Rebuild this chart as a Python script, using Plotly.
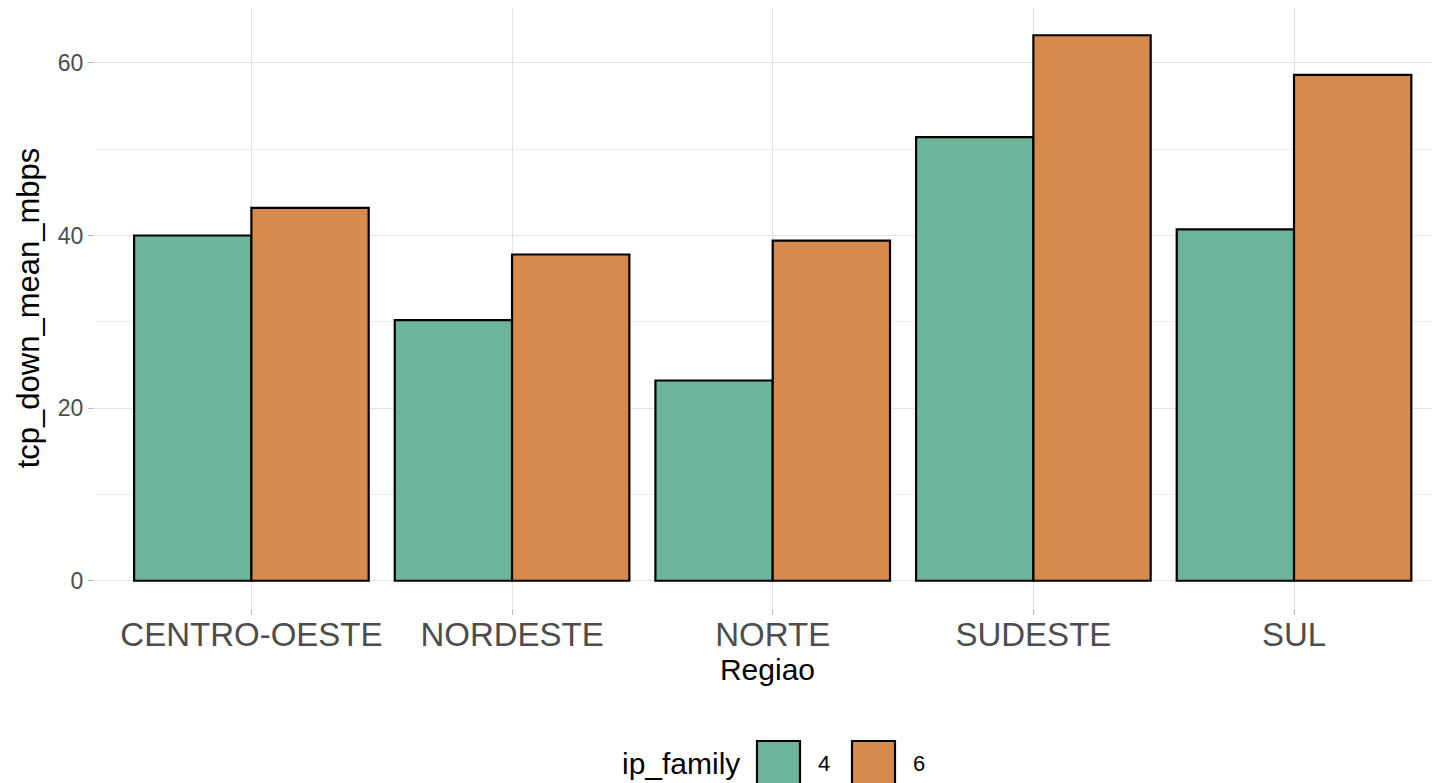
import plotly.graph_objects as go

regions = ["CENTRO-OESTE", "NORDESTE", "NORTE", "SUDESTE", "SUL"]
ip4_values = [40.0, 30.2, 23.2, 51.4, 40.7]
ip6_values = [43.2, 37.8, 39.4, 63.2, 58.6]
series_names = ["4", "6"]
colors = ["#6DB59A", "#D78A4E"]

fig = go.Figure()
for name, vals, col in zip(series_names, [ip4_values, ip6_values], colors):
    fig.add_trace(go.Bar(
        x=regions, y=vals, name=name,
        marker=dict(color=col, line=dict(color="black", width=2.2)),
        showlegend=False,
    ))

font_family = "Liberation Sans, Arial, Helvetica, sans-serif"
grid = "#e3e3e3"

# page body has an 8px offset; plot area on screen: x 95..1440, y 8..608
fig.update_layout(
    width=1440, height=783,
    margin=dict(l=87, r=8, t=0, b=183),
    paper_bgcolor="white", plot_bgcolor="white",
    barmode="group", bargap=0.1, bargroupgap=0,
    font=dict(family=font_family, color="black"),
)
fig.update_xaxes(
    range=[-0.6, 4.56],
    showgrid=True, gridcolor=grid, gridwidth=1.2,
    ticks="outside", ticklen=6, tickcolor="#bbbbbb", tickwidth=1,
    tickfont=dict(size=33, color="#4d4d4d"),
    ticklabelstandoff=-9,
    title=dict(text="Regiao", font=dict(size=30, color="black"), standoff=6),
    zeroline=False, showline=False,
)
fig.update_yaxes(
    range=[-3.16, 66.36], dtick=20, tick0=0,
    showgrid=True, gridcolor=grid, gridwidth=1.2,
    minor=dict(dtick=10, showgrid=True, gridcolor="#ededed", gridwidth=0.8),
    ticks="outside", ticklen=6, tickcolor="#bbbbbb", tickwidth=1,
    tickfont=dict(size=23, color="#4d4d4d"),
    title=dict(text="tcp_down_mean_mbps", font=dict(size=31, color="black"), standoff=8),
    zeroline=False, showline=False,
)

plot_left, plot_right, plot_top, plot_bot = 95, 1440, 8, 608
def dx(p):
    return (p - plot_left) / (plot_right - plot_left)
def dy(p):
    return (plot_bot - p) / (plot_bot - plot_top)

key_boxes = [(757, 800), (852, 895)]
for (x0, x1), col, name in zip(key_boxes, colors, series_names):
    fig.add_shape(type="rect", xref="paper", yref="paper",
                  x0=dx(x0), x1=dx(x1), y0=dy(783 + 10), y1=dy(741),
                  fillcolor=col, line=dict(color="black", width=2.2))
    fig.add_annotation(xref="paper", yref="paper", x=dx(x1 + 16), y=dy(763),
                       text=name, showarrow=False, xanchor="left", yanchor="middle",
                       font=dict(size=22, color="black"))
fig.add_annotation(xref="paper", yref="paper", x=dx(742), y=dy(763),
                   text="ip_family", showarrow=False, xanchor="right", yanchor="middle",
                   font=dict(size=30, color="black"))

fig.write_html("out.html")
